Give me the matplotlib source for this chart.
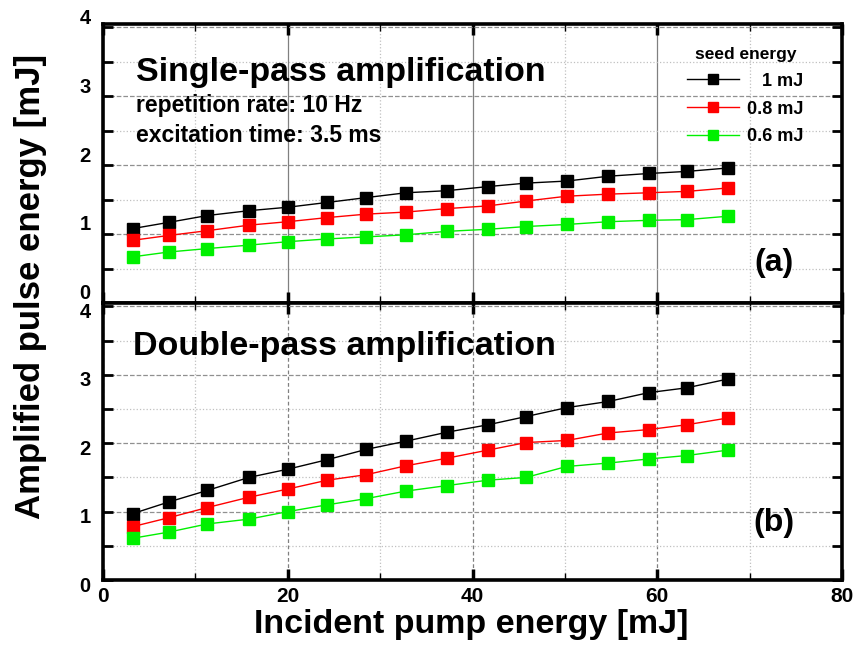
import numpy as np
import matplotlib
matplotlib.use("Agg")
import matplotlib.pyplot as plt
import matplotlib.transforms as mtrans
from matplotlib.ticker import MultipleLocator

plt.rcParams['font.family'] = ['Liberation Sans', 'DejaVu Sans']
plt.rcParams['font.weight'] = 'bold'

pump = [3.2, 7.1, 11.3, 15.8, 20.0, 24.3, 28.5, 32.8, 37.2, 41.7, 45.8, 50.2, 54.7, 59.1, 63.2, 67.7]

# single-pass (a)
sp_1mJ = [1.08, 1.17, 1.27, 1.34, 1.39, 1.46, 1.53, 1.60, 1.63, 1.69, 1.74, 1.77, 1.84, 1.88, 1.91, 1.96]
sp_08mJ = [0.91, 0.98, 1.05, 1.13, 1.18, 1.24, 1.29, 1.32, 1.37, 1.41, 1.48, 1.55, 1.58, 1.60, 1.62, 1.67]
sp_06mJ = [0.67, 0.74, 0.79, 0.84, 0.89, 0.93, 0.96, 0.99, 1.04, 1.07, 1.11, 1.14, 1.18, 1.20, 1.21, 1.26]

# double-pass (b)
dp_1mJ = [0.97, 1.14, 1.31, 1.50, 1.62, 1.76, 1.91, 2.03, 2.16, 2.27, 2.39, 2.52, 2.61, 2.74, 2.81, 2.94]
dp_08mJ = [0.78, 0.91, 1.06, 1.21, 1.33, 1.46, 1.54, 1.67, 1.78, 1.90, 2.01, 2.04, 2.15, 2.20, 2.27, 2.37]
dp_06mJ = [0.61, 0.70, 0.82, 0.89, 1.00, 1.10, 1.19, 1.30, 1.38, 1.46, 1.50, 1.66, 1.71, 1.77, 1.82, 1.90]

seed_labels = ["   1 mJ", "0.8 mJ", "0.6 mJ"]
colors = ["black", "#ff0000", "#00f000"]

fig = plt.figure(figsize=(8.55, 6.55), dpi=100)
ax_a = fig.add_axes([0.1205, 0.5374, 0.8643, 0.426])
ax_b = fig.add_axes([0.1205, 0.1145, 0.8643, 0.4229])


def style_axis(ax, vgrid_ls):
    ax.set_xlim(0, 80)
    ax.set_ylim(0, 4.05)
    ax.xaxis.set_major_locator(MultipleLocator(20))
    ax.xaxis.set_minor_locator(MultipleLocator(10))
    ax.yaxis.set_major_locator(MultipleLocator(1))
    ax.yaxis.set_minor_locator(MultipleLocator(0.5))
    ax.grid(which='major', axis='x', color='#808080', ls=vgrid_ls, lw=0.9)
    ax.grid(which='minor', axis='x', color='#c0c0c0', ls=':', lw=0.9)
    ax.grid(which='major', axis='y', color='#909090', ls='--', lw=0.9)
    ax.grid(which='minor', axis='y', color='#c0c0c0', ls=':', lw=0.9)
    ax.set_axisbelow(True)
    ax.tick_params(axis='x', which='major', direction='in', top=True, length=8, width=2.5,
                   labelsize=15, pad=5)
    ax.tick_params(axis='x', which='minor', direction='in', top=True, length=5, width=1)
    ax.tick_params(axis='y', which='both', direction='in', right=True, length=7, width=2,
                   labelsize=14.5, pad=9)
    for s in ax.spines.values():
        s.set_linewidth(2.6)


style_axis(ax_a, '-')
style_axis(ax_b, (0, (3, 2)))
ax_a.tick_params(axis='x', labelbottom=False)

# top panel labels sit a little above their ticks, bottom ones a little below
up = mtrans.ScaledTranslation(0, 8 / 72, fig.dpi_scale_trans)
down = mtrans.ScaledTranslation(0, -3 / 72, fig.dpi_scale_trans)
for t in ax_a.get_yticklabels():
    t.set_transform(t.get_transform() + up)
for t in ax_b.get_yticklabels():
    t.set_transform(t.get_transform() + down)

for ys, c, lab in zip([sp_1mJ, sp_08mJ, sp_06mJ], colors, seed_labels):
    ax_a.plot(pump, ys, color=c, lw=1, marker='s', ms=8, mec=c, mfc=c, label=lab)
for ys, c in zip([dp_1mJ, dp_08mJ, dp_06mJ], colors):
    ax_b.plot(pump, ys, color=c, lw=1, marker='s', ms=8, mec=c, mfc=c)

leg = ax_a.legend(title="seed energy", loc='upper left', bbox_to_anchor=(0.79, 0.918),
                  frameon=False, fontsize=13, title_fontsize=12.5, handlelength=2.9,
                  handletextpad=0.45, labelspacing=0.6, borderpad=0, borderaxespad=0,
                  markerscale=0.85)
leg.get_title().set_fontweight('bold')

ax_a.text(0.0447, 0.795, "Single-pass amplification", transform=ax_a.transAxes,
          fontsize=24.5, va='baseline')
ax_a.text(0.0447, 0.683, "repetition rate: 10 Hz", transform=ax_a.transAxes,
          fontsize=16.5, va='baseline')
ax_a.text(0.0447, 0.576, "excitation time: 3.5 ms", transform=ax_a.transAxes,
          fontsize=16.5, va='baseline')
ax_a.text(0.934, 0.144, "(a)", transform=ax_a.transAxes, fontsize=23, ha='right', va='center')

ax_b.text(0.0406, 0.811, "Double-pass amplification", transform=ax_b.transAxes,
          fontsize=24.5, va='baseline')
ax_b.text(0.936, 0.207, "(b)", transform=ax_b.transAxes, fontsize=23, ha='right', va='center')

fig.text(0.551, 0.0336, "Incident pump energy [mJ]", fontsize=24.5, ha='center', va='baseline')
fig.text(0.036, 0.563, "Amplified pulse energy [mJ]", fontsize=25, rotation=90,
         ha='center', va='center')

fig.savefig("out.png", dpi=100)
